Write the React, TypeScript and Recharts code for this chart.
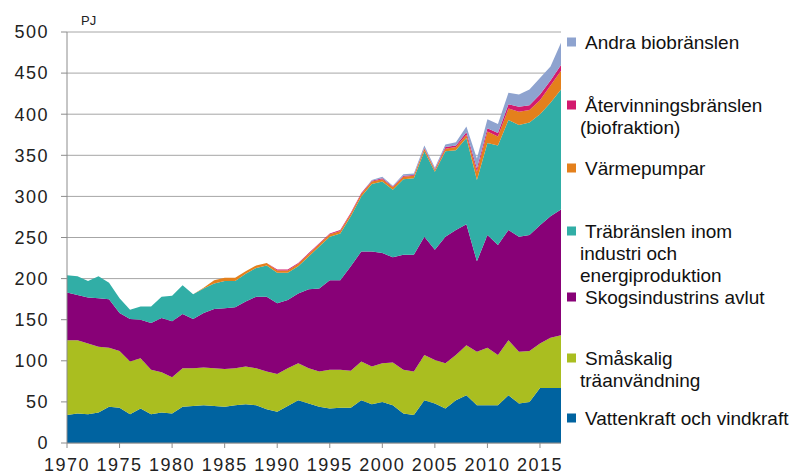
import { AreaChart, Area, XAxis, YAxis, CartesianGrid } from 'recharts';

// PJ per year (bottom to top)
const years = [
  1970, 1971, 1972, 1973, 1974, 1975, 1976, 1977, 1978, 1979,
  1980, 1981, 1982, 1983, 1984, 1985, 1986, 1987, 1988, 1989,
  1990, 1991, 1992, 1993, 1994, 1995, 1996, 1997, 1998, 1999,
  2000, 2001, 2002, 2003, 2004, 2005, 2006, 2007, 2008, 2009,
  2010, 2011, 2012, 2013, 2014, 2015, 2016, 2017,
];

const vattenkraft = [
  34, 36, 35, 37, 44, 43, 35, 42, 35, 37,
  36, 44, 45, 46, 45, 44, 46, 47, 46, 41,
  38, 45, 52, 48, 44, 42, 43, 43, 52, 47,
  50, 46, 36, 34, 52, 48, 42, 52, 58, 46,
  46, 46, 58, 48, 50, 67, 67, 67,
];

const smaskalig = [
  91, 89, 86, 80, 72, 69, 64, 61, 54, 49,
  44, 47, 46, 46, 46, 46, 45, 46, 45, 46,
  46, 46, 45, 43, 43, 47, 46, 45, 47, 46,
  47, 52, 53, 53, 55, 53, 55, 55, 61, 65,
  70, 61, 67, 63, 62, 54, 61, 64,
];

const skogsindustri = [
  58, 55, 56, 59, 59, 46, 52, 47, 57, 66,
  68, 66, 60, 66, 72, 74, 74, 79, 87, 91,
  86, 83, 85, 96, 101, 109, 109, 127, 134, 140,
  134, 128, 140, 142, 144, 134, 154, 152, 147, 110,
  137, 134, 134, 140, 141, 144, 148, 153,
];

const trabransle = [
  21, 23, 20, 27, 20, 18, 11, 16, 20, 26,
  31, 35, 30, 30, 31, 33, 32, 34, 35, 38,
  37, 33, 33, 40, 51, 53, 57, 61, 67, 82,
  87, 82, 92, 93, 104, 95, 104, 97, 105, 99,
  112, 121, 134, 136, 137, 135, 138, 146,
];

const varmepumpar = [
  0, 0, 0, 0, 0, 0, 0, 0, 0, 0,
  0, 0, 0, 1, 4, 4, 4, 3, 3, 3,
  3, 3, 3, 3, 3, 3, 3, 3, 3, 3,
  3, 3, 3, 3, 3, 2, 3, 4, 4, 10,
  14, 11, 14, 16, 15, 17, 21, 23,
];

const atervinning = [
  0, 0, 0, 0, 0, 0, 0, 0, 0, 0,
  0, 0, 0, 0, 0, 0, 0, 0, 0, 0,
  1, 1, 1, 1, 1, 1, 1, 1, 1, 1,
  1, 1, 1, 1, 1, 1, 2, 2, 3, 4,
  4, 4, 5, 6, 6, 7, 6, 7,
];

const andra = [
  0, 0, 0, 0, 0, 0, 0, 0, 0, 0,
  0, 0, 0, 0, 0, 0, 0, 0, 0, 0,
  0, 0, 0, 0, 0, 0, 0, 0, 0, 1,
  2, 1, 2, 2, 3, 2, 3, 4, 7, 12,
  11, 11, 14, 15, 19, 20, 17, 27,
];

const xTicks = [1970, 1975, 1980, 1985, 1990, 1995, 2000, 2005, 2010, 2015];
const yTicks = [0, 50, 100, 150, 200, 250, 300, 350, 400, 450, 500];

const data = years.map((year, i) => ({
  year,
  vattenkraft: vattenkraft[i],
  smaskalig: smaskalig[i],
  skogsindustri: skogsindustri[i],
  trabransle: trabransle[i],
  varmepumpar: varmepumpar[i],
  atervinning: atervinning[i],
  andra: andra[i],
}));

const series = [
  { key: 'vattenkraft', color: '#0063a0' },
  { key: 'smaskalig', color: '#aabe20' },
  { key: 'skogsindustri', color: '#880177' },
  { key: 'trabransle', color: '#31aea6' },
  { key: 'varmepumpar', color: '#e4801c' },
  { key: 'atervinning', color: '#d31a6e' },
  { key: 'andra', color: '#8ea3cf' },
];

// legend text lines, top to bottom, with the y of each entry's first line
const legendItems = [
  { color: '#8ea3cf', y: 42, lines: ['Andra biobränslen'] },
  { color: '#d31a6e', y: 105, lines: ['Återvinningsbränslen', '(biofraktion)'] },
  { color: '#e4801c', y: 168, lines: ['Värmepumpar'] },
  { color: '#31aea6', y: 231, lines: ['Träbränslen inom', 'industri och', 'energiproduktion'] },
  { color: '#880177', y: 297, lines: ['Skogsindustrins avlut'] },
  { color: '#aabe20', y: 358, lines: ['Småskalig', 'träanvändning'] },
  { color: '#0063a0', y: 418, lines: ['Vattenkraft och vindkraft'] },
];

const tickStyle = { fill: '#222', fontSize: 18, letterSpacing: 1.5 };

export default function App() {
  return (
    <div
      style={{
        position: 'absolute',
        left: 0,
        top: 0,
        width: 793,
        height: 475,
        background: '#fff',
        fontFamily: '"Liberation Sans", Arial, sans-serif',
      }}
    >
      <AreaChart
        width={793}
        height={475}
        data={data}
        margin={{ top: 32, right: 232, bottom: 0, left: 0 }}
      >
        <CartesianGrid vertical={false} stroke='#a6a6a6' />
        <XAxis
          dataKey='year'
          type='number'
          domain={[1970, 2017]}
          ticks={xTicks}
          interval={0}
          height={32}
          tickSize={5}
          tickMargin={10}
          stroke='#8c8c8c'
          tick={tickStyle}
        />
        <YAxis
          type='number'
          domain={[0, 500]}
          ticks={yTicks}
          interval={0}
          width={67}
          tickSize={6}
          tickMargin={12}
          stroke='#8c8c8c'
          tick={tickStyle}
        />
        {series.map((s) => (
          <Area
            key={s.key}
            dataKey={s.key}
            stackId='1'
            type='linear'
            fill={s.color}
            fillOpacity={1}
            stroke='none'
            isAnimationActive={false}
          />
        ))}
      </AreaChart>
      <svg
        width={793}
        height={475}
        style={{ position: 'absolute', left: 0, top: 0, pointerEvents: 'none' }}
      >
        <text x={81} y={25} fontSize={13} fill='#222'>
          PJ
        </text>
        {legendItems.map((item) => (
          <g key={item.lines[0]}>
            <rect x={567} y={item.y - 4.5} width={9} height={9} fill={item.color} />
            {item.lines.map((line, j) => (
              <text
                key={line}
                x={j === 0 ? 585 : 580}
                y={item.y + j * 22}
                dominantBaseline='central'
                fontSize={19}
                fill='#111'
              >
                {line}
              </text>
            ))}
          </g>
        ))}
      </svg>
    </div>
  );
}
